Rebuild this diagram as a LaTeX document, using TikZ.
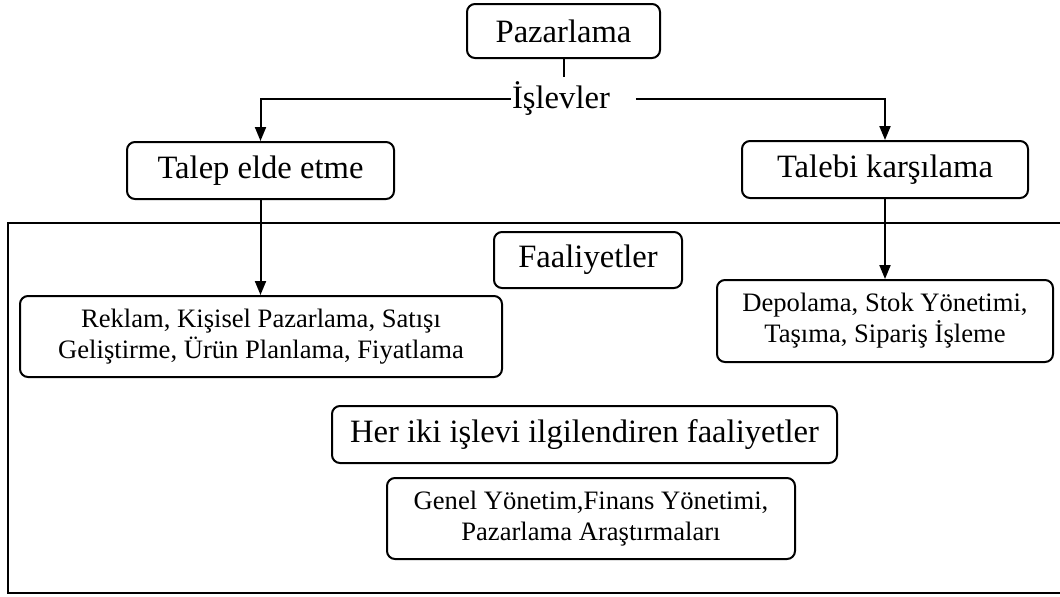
\documentclass[tikz,border=0pt]{standalone}
\usepackage{fontspec}
\setmainfont{Liberation Serif}
\usetikzlibrary{arrows.meta}

\begin{document}
\begin{tikzpicture}[x=0.5pt, y=-0.5pt, line width=1pt,
    >={Triangle[length=7pt, width=5.5pt]},
    box/.style={draw, rounded corners=4pt, align=center, inner sep=0pt},
    bigtext/.style={font=\fontsize{16.3}{19}\selectfont},
    smalltext/.style={font=\fontsize{13.3}{15.5}\selectfont}]

    \useasboundingbox (0,0) rectangle (1060,596);

    % --- Top: marketing and its two functions ---
    \node[box, bigtext, minimum width=96.5pt, minimum height=27pt] (paz) at (563.5,31) {Pazarlama};
    \node[bigtext, inner xsep=0pt, inner ysep=2pt] (isl) at (561,99) {İşlevler};

    \node[box, bigtext, minimum width=133.5pt, minimum height=28.5pt] (talep) at (260.5,170.5) {Talep elde etme};
    \node[box, bigtext, minimum width=143pt, minimum height=28.5pt] (karsi) at (885,169.5) {Talebi karşılama};

    % --- Frame round the activities (open at the right) ---
    \draw (1060,223) -- (8,223) -- (8,593) -- (1060,593);

    \node[box, bigtext, minimum width=94pt, minimum height=28pt] (faal) at (588,260) {Faaliyetler};

    \node[box, smalltext, minimum width=241pt, minimum height=40.5pt] (reklam) at (261,336.5)
      {Reklam, Kişisel Pazarlama, Satışı\\Geliştirme, Ürün Planlama, Fiyatlama};
    \node[box, smalltext, minimum width=168pt, minimum height=41pt] (depo) at (885,321)
      {Depolama, Stok Yönetimi,\\Taşıma, Sipariş İşleme};

    \node[box, bigtext, minimum width=252.5pt, minimum height=28.5pt] (heriki) at (584.5,434.5)
      {Her iki işlevi ilgilendiren faaliyetler};
    \node[box, smalltext, minimum width=204pt, minimum height=40.5pt] (genel) at (591,518.5)
      {Genel Yönetim,Finans Yönetimi,\\Pazarlama Araştırmaları};

    % --- Connectors ---
    \draw (paz.south) -- (paz.south |- isl.north);
    \draw[->] (isl.west) -| (talep.north);
    \draw[->] ([xshift=12.5pt]isl.east) -| (karsi.north);

    \draw[->] (talep.south) -- (talep.south |- reklam.north);
    \draw[->] (karsi.south) -- (depo.north);

\end{tikzpicture}
\end{document}
